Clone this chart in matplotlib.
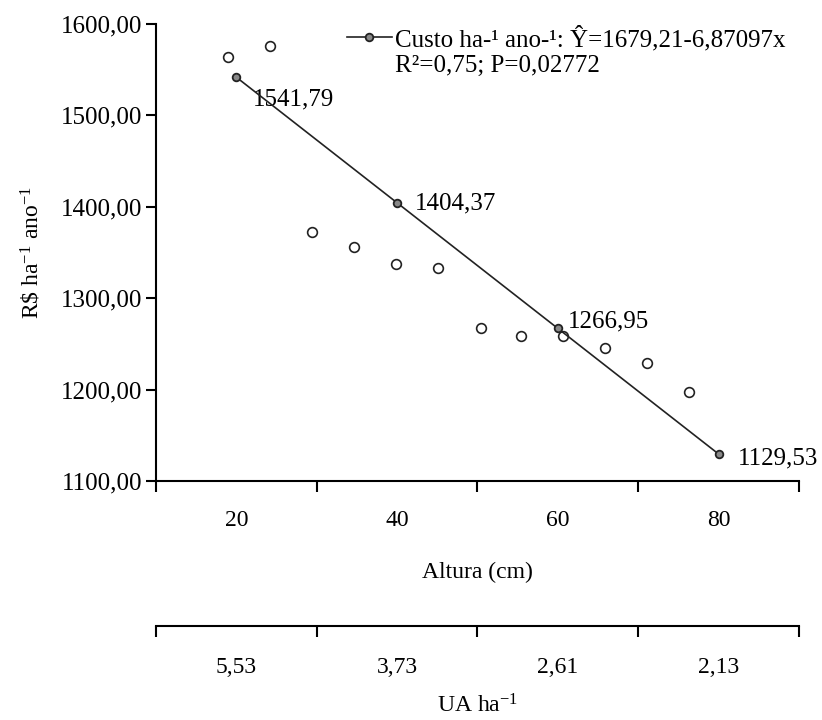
import matplotlib.pyplot as plt
from matplotlib.lines import Line2D

plt.rcParams['font.family'] = ['Liberation Serif', 'DejaVu Serif']
plt.rcParams['mathtext.fontset'] = 'custom'
plt.rcParams['mathtext.rm'] = 'Liberation Serif'
plt.rcParams['mathtext.it'] = 'Liberation Serif:italic'

# observed values (open circles)
altura_obs = [19.0, 24.2, 29.4, 34.6, 39.8, 45.1, 50.4, 55.4, 60.7, 65.9, 71.1, 76.3]
custo_obs = [1564, 1576, 1372, 1356, 1337, 1333, 1267, 1259, 1259, 1246, 1229, 1197]

# fitted values
altura_fit = [20, 40, 60, 80]
custo_fit = [1541.79, 1404.37, 1266.95, 1129.53]
fit_labels = ["1541,79", "1404,37", "1266,95", "1129,53"]
label_offsets = [(16, -22), (18, -1), (10, 7), (19, -4)]  # pixels

ua_labels = ["5,53", "3,73", "2,61", "2,13"]
legend_line1 = "Custo ha-\u00b9 ano-\u00b9: \u0176=1679,21-6,87097x"
legend_line2 = "R\u00b2=0,75; P=0,02772"

FS = 17
FS_BIG = 18

fig = plt.figure(figsize=(8.22, 7.2), dpi=100)
ax = fig.add_axes([0.1898, 0.3319, 0.7822, 0.6347])

ax.plot(altura_obs, custo_obs, 'o', ms=7, mfc='white', mec='#222222', mew=1.2,
        linestyle='none', zorder=3)
fit_line, = ax.plot(altura_fit, custo_fit, '-o', color='#222222', lw=1.2, ms=5.5,
                    mfc='#888888', mec='#222222', mew=1.3, zorder=4)

for x, y, t, off in zip(altura_fit, custo_fit, fit_labels, label_offsets):
    ax.annotate(t, (x, y), xytext=off, textcoords='offset pixels',
                fontsize=FS_BIG, va='center', ha='left')

ax.set_xlim(10, 90)
ax.set_ylim(1100, 1600)
yticks = [1100, 1200, 1300, 1400, 1500, 1600]
ax.set_yticks(yticks)
ax.set_yticklabels([f"{v},00" for v in yticks], fontsize=FS_BIG)
ax.set_xticks([10, 30, 50, 70, 90])
ax.set_xticklabels([])
ax.set_xticks(altura_fit, minor=True)
ax.set_xticklabels([str(v) for v in altura_fit], minor=True, fontsize=FS)
ax.tick_params(axis='x', which='major', direction='out', length=8, width=1.5)
ax.tick_params(axis='x', which='minor', length=0, pad=21)
ax.tick_params(axis='y', direction='out', length=7, width=1.5, pad=3)
ax.spines['top'].set_visible(False)
ax.spines['right'].set_visible(False)
ax.spines['left'].set_linewidth(1.5)
ax.spines['bottom'].set_linewidth(1.5)

ax.set_xlabel("Altura (cm)", fontsize=FS, labelpad=22)
ax.set_ylabel(r"R\$ ha$^{-1}$ ano$^{-1}$", fontsize=FS, labelpad=12)

blank = Line2D([], [], linestyle='none')
ax.legend([fit_line, blank], [legend_line1, legend_line2],
          loc='upper left', bbox_to_anchor=(0.297, 0.997), frameon=False,
          fontsize=FS_BIG, handlelength=1.8, handletextpad=0.12, borderpad=0,
          borderaxespad=0, labelspacing=0.15)

# second axis: UA ha-1
ax2 = fig.add_axes([0.1898, 0.1306, 0.7822, 0.0001])
ax2.set_xlim(10, 90)
ax2.set_yticks([])
for s in ['top', 'right', 'left']:
    ax2.spines[s].set_visible(False)
ax2.spines['bottom'].set_linewidth(1.5)
ax2.patch.set_visible(False)
ax2.set_xticks([10, 30, 50, 70, 90])
ax2.set_xticklabels([])
ax2.set_xticks(altura_fit, minor=True)
ax2.set_xticklabels(ua_labels, minor=True, fontsize=FS)
ax2.tick_params(axis='x', which='major', direction='out', length=8, width=1.5)
ax2.tick_params(axis='x', which='minor', length=0, pad=22)
ax2.set_xlabel(r"UA ha$^{-1}$", fontsize=FS, labelpad=12)

fig.savefig("out.png", dpi=100)
